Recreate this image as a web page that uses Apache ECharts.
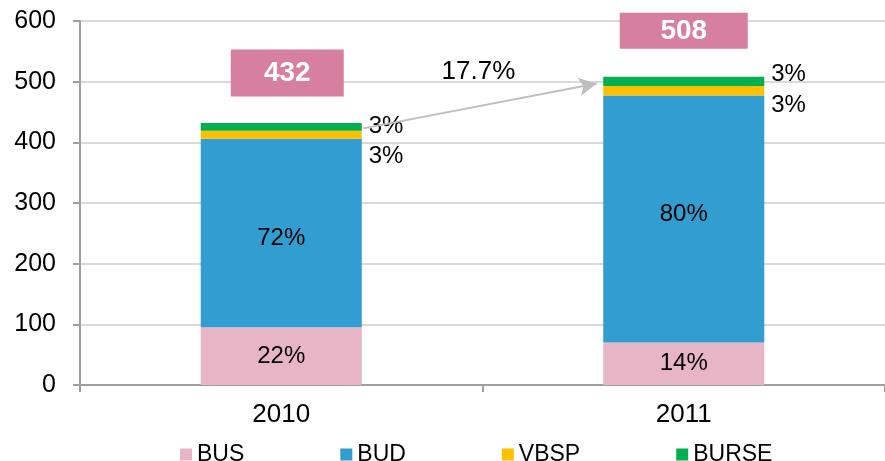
<!DOCTYPE html>
<html>
<head>
<meta charset="utf-8">
<script src="https://cdn.jsdelivr.net/npm/echarts@6/dist/echarts.min.js"></script>
<style>
  html, body { margin: 0; padding: 0; background: #fff; }
  #chart { width: 885px; height: 461px; }
</style>
</head>
<body>
<div id="chart"></div>
<script>
// values
const years = ['2010', '2011'];
const bus = [95, 70];
const bud = [311, 407];
const vbsp = [13, 16];
const burse = [13, 15];
const totals = [432, 508];
const growthLabel = '17.7%';

const colors = {
  BUS: '#e8b5c6',
  BUD: '#319dd0',
  VBSP: '#ffc000',
  BURSE: '#00b050',
  box: '#d77f9e'
};

const font = 'Liberation Sans, Arial, sans-serif';
const pct = (v, i) => Math.round(v / totals[i] * 100) + '%';

// small label nudges for the thin segments and the total boxes
const vbspOffsets = [[0, 22], [0, 15]];
const burseOffsets = [[0, 0], [0, -7]];
const budOffsets = [[0, 5], [0, -5]];
const boxStyles = [
  { size: [113, 47], offset: [6, -50] },
  { size: [128, 36], offset: [0, -46] }
];

const sideLabel = (offsets) => (v, i) => ({
  value: v,
  label: {
    show: true, position: 'right', distance: 7, offset: offsets[i],
    formatter: () => pct(v, i), fontSize: 24, color: '#000', fontFamily: font
  }
});

const chart = echarts.init(document.getElementById('chart'));

const option = {
  animation: false,
  textStyle: { fontFamily: font },
  grid: { left: 80, top: 21, width: 810, height: 364 },
  legend: {
    data: ['BUS', 'BUD', 'VBSP', 'BURSE'],
    left: 175, top: 438,
    icon: 'rect', itemWidth: 12, itemHeight: 12, itemGap: 96,
    textStyle: { fontSize: 23, color: '#000', fontFamily: font }
  },
  xAxis: [{
    type: 'category',
    data: years,
    axisLine: { lineStyle: { color: '#a0a0a0', width: 2 } },
    axisTick: { show: true, length: 7, lineStyle: { color: '#a0a0a0', width: 2 } },
    axisLabel: { fontSize: 26, color: '#000', margin: 17, fontFamily: font }
  }, {
    type: 'value', min: -0.5, max: 1.5, show: false
  }],
  yAxis: {
    type: 'value', min: 0, max: 600, interval: 100,
    axisLine: { show: true, onZero: false, lineStyle: { color: '#a0a0a0', width: 2 } },
    axisTick: { show: true, length: 7, lineStyle: { color: '#a0a0a0', width: 2 } },
    axisLabel: { fontSize: 25, color: '#000', margin: 24, fontFamily: font },
    splitLine: { lineStyle: { color: '#d9d9d9', width: 2 } }
  },
  series: [
    {
      name: 'BUS', type: 'bar', stack: 'total', barWidth: 161,
      data: bus, itemStyle: { color: colors.BUS },
      label: { show: true, position: 'inside', fontSize: 24, color: '#000',
        formatter: p => pct(p.value, p.dataIndex) }
    },
    {
      name: 'BUD', type: 'bar', stack: 'total', barWidth: 161,
      data: bud.map((v, i) => ({ value: v, label: { offset: budOffsets[i] } })),
      itemStyle: { color: colors.BUD },
      label: { show: true, position: 'inside', fontSize: 24, color: '#000',
        formatter: p => pct(p.value, p.dataIndex) }
    },
    {
      name: 'VBSP', type: 'bar', stack: 'total', barWidth: 161,
      data: vbsp.map(sideLabel(vbspOffsets)), itemStyle: { color: colors.VBSP }
    },
    {
      name: 'BURSE', type: 'bar', stack: 'total', barWidth: 161,
      data: burse.map(sideLabel(burseOffsets)), itemStyle: { color: colors.BURSE },
      markPoint: {
        silent: true,
        symbol: 'rect',
        itemStyle: { color: colors.box },
        label: { show: true, position: 'inside', color: '#fff', fontSize: 28,
          fontWeight: 'bold', fontFamily: font, formatter: p => String(p.value) },
        data: totals.map((v, i) => ({
          coord: [years[i], v], value: v,
          symbolSize: boxStyles[i].size, symbolOffset: boxStyles[i].offset
        }))
      }
    },
    {
      name: 'Growth', type: 'scatter', xAxisIndex: 1, symbolSize: 0,
      itemStyle: { color: 'rgba(255,255,255,0)', opacity: 1 },
      data: [[0.49, 516]],
      label: { show: true, position: 'inside', formatter: growthLabel,
        fontSize: 26, color: '#000', fontFamily: font },
      markLine: {
        silent: true,
        symbol: ['none', 'arrow'], symbolSize: [14, 18],
        label: { show: false },
        lineStyle: { color: '#bfbfbf', width: 2, type: 'solid' },
        data: [[{ coord: [0.204, 423] }, { coord: [0.784, 497] }]]
      }
    }
  ]
};

chart.setOption(option);
</script>
</body>
</html>
